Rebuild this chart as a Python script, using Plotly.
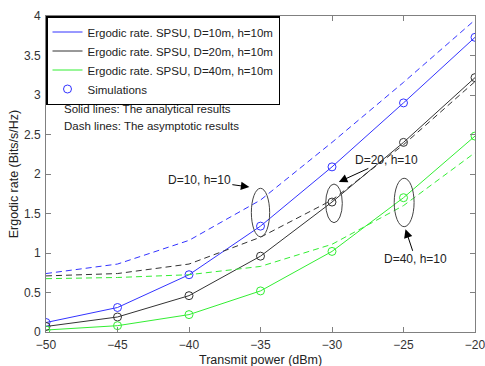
import plotly.graph_objects as go

power = [-50, -45, -40, -35, -30, -25, -20]

d10_analytical = [0.12, 0.31, 0.725, 1.34, 2.09, 2.90, 3.73]
d20_analytical = [0.07, 0.19, 0.46, 0.96, 1.645, 2.40, 3.22]
d40_analytical = [0.025, 0.08, 0.22, 0.52, 1.02, 1.70, 2.48]

d10_asymptotic = [0.74, 0.86, 1.16, 1.67, 2.40, 3.16, 3.95]
d20_asymptotic = [0.71, 0.74, 0.86, 1.20, 1.67, 2.37, 3.17]
d40_asymptotic = [0.675, 0.69, 0.725, 0.83, 1.11, 1.60, 2.27]

d10_sim = [0.12, 0.31, 0.725, 1.34, 2.09, 2.90, 3.73]
d20_sim = [0.07, 0.19, 0.46, 0.96, 1.645, 2.40, 3.22]
d40_sim = [0.025, 0.08, 0.22, 0.52, 1.02, 1.70, 2.48]

legend_names = [
    "Ergodic rate. SPSU, D=10m, h=10m",
    "Ergodic rate. SPSU, D=20m, h=10m",
    "Ergodic rate. SPSU, D=40m, h=10m",
    "Simulations",
]

BLUE = "#3333ff"
BLACK = "#333333"
GREEN = "#33ee33"
FONT = "Liberation Sans, Arial, sans-serif"

fig = go.Figure()

for ys, col, name in [(d10_analytical, BLUE, legend_names[0]),
                      (d20_analytical, BLACK, legend_names[1]),
                      (d40_analytical, GREEN, legend_names[2])]:
    fig.add_trace(go.Scatter(x=power, y=ys, mode="lines", name=name,
                             line=dict(color=col, width=1)))

for ys, col in [(d10_asymptotic, BLUE), (d20_asymptotic, BLACK), (d40_asymptotic, GREEN)]:
    fig.add_trace(go.Scatter(x=power, y=ys, mode="lines", showlegend=False,
                             line=dict(color=col, width=1, dash="6px,4px")))

for i, (ys, col) in enumerate([(d10_sim, BLUE), (d20_sim, BLACK), (d40_sim, GREEN)]):
    fig.add_trace(go.Scatter(x=power, y=ys, mode="markers",
                             name=legend_names[3], showlegend=(i == 0),
                             marker=dict(symbol="circle-open", size=8,
                                         color=col, line=dict(width=1, color=col))))

# ellipses
ellipses = [(-35.64, -34.36, 1.206, 1.819),
            (-30.44, -29.28, 1.384, 1.873),
            (-25.65, -24.26, 1.333, 1.946)]
for x0, x1, y0, y1 in ellipses:
    fig.add_shape(type="circle", xref="x", yref="y", x0=x0, x1=x1, y0=y0, y1=y1,
                  line=dict(color="#444444", width=1))

# arrows with labels
arrows = [("D=10, h=10", -35.78, 1.835, -50, -7),
          ("D=20, h=10", -29.52, 1.90, 48, -22),
          ("D=40, h=10", -24.86, 1.30, 10, 30)]
for txt, x, y, ax, ay in arrows:
    fig.add_annotation(x=x, y=y, xref="x", yref="y", text=txt, showarrow=True,
                       ax=ax, ay=ay, arrowhead=2, arrowsize=1.7, arrowwidth=1,
                       arrowcolor="black", font=dict(family=FONT, size=12, color="#222"))

fig.add_annotation(x=-48.87, y=2.82, xref="x", yref="y", text="Solid lines: The analytical results",
                   showarrow=False, xanchor="left", yanchor="middle",
                   font=dict(family=FONT, size=11.5, color="#222"))
fig.add_annotation(x=-48.87, y=2.61, xref="x", yref="y", text="Dash lines: The asymptotic results",
                   showarrow=False, xanchor="left", yanchor="middle",
                   font=dict(family=FONT, size=11.5, color="#222"))

# x-axis title placed explicitly below the tick labels
fig.add_annotation(x=0.5, y=-0.09, xref="paper", yref="paper", text="Transmit power (dBm)",
                   showarrow=False, xanchor="center", yanchor="middle",
                   font=dict(family=FONT, size=12.5, color="#222"))

axis_common = dict(showgrid=False, zeroline=False, showline=True, mirror="ticks",
                   linecolor="#808080", linewidth=1, ticks="inside", ticklen=5,
                   tickcolor="#808080", tickfont=dict(family=FONT, size=12, color="#333"),
                   ticklabeloverflow="allow", automargin=False)

fig.update_layout(
    width=485, height=366,
    margin=dict(l=46, r=10, t=16, b=34),
    paper_bgcolor="white", plot_bgcolor="white",
    font=dict(family=FONT, size=12, color="#222"),
    xaxis=dict(range=[-50, -20], tickvals=power, ticklabelstandoff=2, **axis_common),
    yaxis=dict(range=[0, 4], tickvals=[0, 0.5, 1, 1.5, 2, 2.5, 3, 3.5, 4],
               ticktext=["0", "0.5", "1", "1.5", "2", "2.5", "3", "3.5", "4"],
               ticklabelstandoff=2,
               title=dict(text="Ergodic rate (Bits/s/Hz)", font=dict(family=FONT, size=12.5), standoff=2),
               **axis_common),
    legend=dict(x=0, y=1, xanchor="left", yanchor="top", bgcolor="white",
                bordercolor="black", borderwidth=1.5,
                font=dict(family=FONT, size=11.5, color="#222"),
                tracegroupgap=0, itemwidth=30),
    showlegend=True,
)

fig.write_html("out.html")
